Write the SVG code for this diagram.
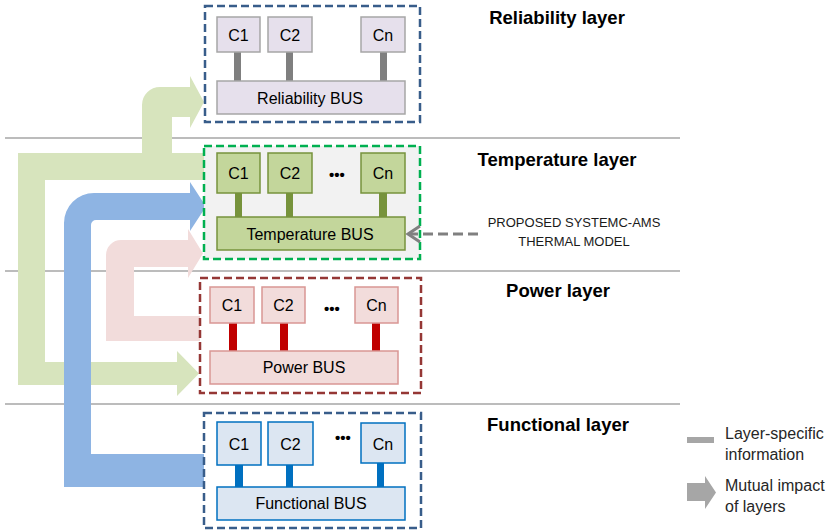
<svg xmlns="http://www.w3.org/2000/svg" width="839" height="530" viewBox="0 0 839 530">
<style>
text{font-family:"Liberation Sans",Arial,sans-serif;fill:#000}
.sep{stroke:#a6a6a6;stroke-width:1.5;fill:none}
.layer{stroke-width:2.5;stroke-dasharray:8 4}
.title{font-size:18.5px;font-weight:bold;text-anchor:middle}
.c{font-size:16px;text-anchor:middle}
.bus{font-size:16px;text-anchor:middle}
.dots{font-size:15px;font-weight:bold;text-anchor:middle}
.leg{font-size:16px;fill:#262626}
.note{font-size:13px;text-anchor:middle;fill:#1a1a1a}
.rel rect{fill:#e6e0ec;stroke:#a6a6a6;stroke-width:1.5}
.tmp rect{fill:#c3d69b;stroke:#77933c;stroke-width:1.5}
.pwr rect{fill:#f2dcdb;stroke:#d99694;stroke-width:1.5}
.fun rect{fill:#dce6f2;stroke:#0070c0;stroke-width:1.5}
</style>

<g id="separators">
<line class="sep" x1="5" y1="138" x2="680" y2="138"/>
<line class="sep" x1="5" y1="271" x2="680" y2="271"/>
<line class="sep" x1="5" y1="404" x2="680" y2="404"/>
</g>

<g id="impact-arrows">
<path id="arrow-temperature" fill="#d7e4bd" d="M18 385V153H142V105A18 18 0 0 1 160 87H190V76L204 102L190 128V117H172V153H204V180H45V362H177V351L199 373.5L177 396V385Z"/>
<path id="arrow-power" fill="#f2dcdb" d="M106 341V255A15 15 0 0 1 121 240H188V229L203 253.5L188 278V267H134V316H200V341Z"/>
<path id="arrow-functional" fill="#8eb4e3" d="M64 487V223A30 30 0 0 1 94 193H190V182L206 206.5L190 231V220H96A5 5 0 0 0 91 225V454H204V487Z"/>
</g>

<g id="reliability-layer">
<rect class="layer" x="205" y="6" width="215" height="116" fill="#fff" stroke="#385d8a"/>
<text class="title" x="557" y="24">Reliability layer</text>
</g>
<g id="temperature-layer">
<rect class="layer" x="204" y="146" width="216" height="113" fill="#f2f2f2" stroke="#00b050"/>
<text class="title" x="557" y="166">Temperature layer</text>
</g>
<g id="power-layer">
<rect class="layer" x="200" y="278" width="221" height="115" fill="#fff" stroke="#953735"/>
<text class="title" x="558" y="297">Power layer</text>
</g>
<g id="functional-layer">
<rect class="layer" x="204" y="413" width="217" height="115" fill="#fff" stroke="#385d8a"/>
<text class="title" x="558" y="431">Functional layer</text>
</g>

<g id="connectors">
<g fill="#7f7f7f">
<rect x="234" y="52" width="7" height="29"/>
<rect x="286" y="52" width="7" height="29"/>
<rect x="380" y="52" width="7" height="29"/>
</g>
<g fill="#77933c">
<rect x="235" y="193" width="7" height="24"/>
<rect x="286" y="193" width="7" height="24"/>
<rect x="379" y="193" width="8" height="24"/>
</g>
<g fill="#c00000">
<rect x="229" y="323" width="8" height="28"/>
<rect x="280" y="323" width="8" height="28"/>
<rect x="372" y="323" width="8" height="28"/>
</g>
<g fill="#0070c0">
<rect x="235" y="465" width="8" height="22"/>
<rect x="286" y="465" width="7" height="22"/>
<rect x="377" y="463" width="7" height="24"/>
</g>
<g id="thermal-model-link" stroke="#808080" stroke-width="3" fill="none">
<line x1="478" y1="234" x2="409" y2="234" stroke-dasharray="10 5"/>
<polyline points="420,226 408,234 420,242"/>
</g>
</g>

<g id="reliability-nodes" class="rel">
<g id="rel-c1"><rect x="217" y="17" width="43" height="35"/><text class="c" x="238.5" y="41">C1</text></g>
<g id="rel-c2"><rect x="268" y="17" width="44" height="35"/><text class="c" x="290" y="41">C2</text></g>
<g id="rel-cn"><rect x="361" y="17" width="44" height="35"/><text class="c" x="383" y="41">Cn</text></g>
<g id="rel-bus"><rect x="217" y="81" width="188" height="33"/><text class="bus" x="310" y="104">Reliability BUS</text></g>
</g>

<g id="temperature-nodes" class="tmp">
<g id="tmp-c1"><rect x="217" y="153" width="43" height="40"/><text class="c" x="238.5" y="179">C1</text></g>
<g id="tmp-c2"><rect x="268" y="153" width="44" height="40"/><text class="c" x="290" y="179">C2</text></g>
<text class="dots" x="337" y="180">•••</text>
<g id="tmp-cn"><rect x="361" y="153" width="44" height="40"/><text class="c" x="383" y="179">Cn</text></g>
<g id="tmp-bus"><rect x="217" y="217" width="188" height="33"/><text class="bus" x="310" y="240">Temperature BUS</text></g>
</g>

<g id="power-nodes" class="pwr">
<g id="pwr-c1"><rect x="210" y="287" width="44" height="36"/><text class="c" x="232" y="311">C1</text></g>
<g id="pwr-c2"><rect x="262" y="287" width="43" height="36"/><text class="c" x="283.5" y="311">C2</text></g>
<text class="dots" x="332" y="314">•••</text>
<g id="pwr-cn"><rect x="355" y="287" width="43" height="36"/><text class="c" x="376.5" y="311">Cn</text></g>
<g id="pwr-bus"><rect x="210" y="351" width="188" height="33"/><text class="bus" x="304" y="373">Power BUS</text></g>
</g>

<g id="functional-nodes" class="fun">
<g id="fun-c1"><rect x="217" y="422" width="44" height="43"/><text class="c" x="239" y="450">C1</text></g>
<g id="fun-c2"><rect x="268" y="422" width="45" height="43"/><text class="c" x="290.5" y="450">C2</text></g>
<text class="dots" x="343" y="443">•••</text>
<g id="fun-cn"><rect x="361" y="423" width="44" height="40"/><text class="c" x="383" y="450">Cn</text></g>
<g id="fun-bus"><rect x="217" y="487" width="188" height="33"/><text class="bus" x="311" y="509">Functional BUS</text></g>
</g>

<g id="thermal-model-note">
<text class="note" x="574" y="227">PROPOSED SYSTEMC-AMS</text>
<text class="note" x="574" y="246">THERMAL MODEL</text>
</g>

<g id="legend">
<rect x="687" y="437" width="27" height="6" fill="#a6a6a6"/>
<text class="leg" x="725" y="439">Layer-specific</text>
<text class="leg" x="725" y="460">information</text>
<path fill="#a6a6a6" d="M687 483H705V476L716 492.5L705 509V501H687Z"/>
<text class="leg" x="725" y="491">Mutual impact</text>
<text class="leg" x="725" y="512">of layers</text>
</g>
</svg>
